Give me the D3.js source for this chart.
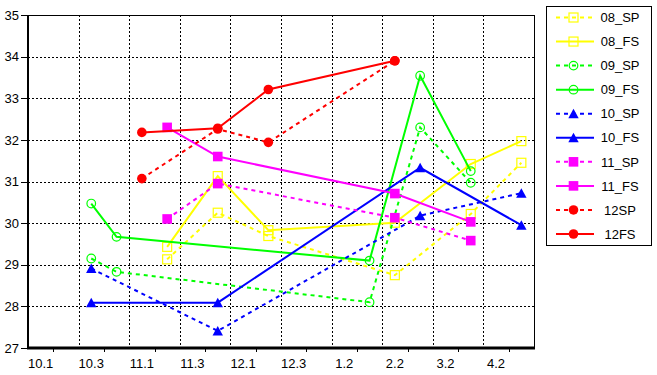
<!DOCTYPE html>
<html>
<head>
<meta charset="utf-8">
<script src="https://cdn.jsdelivr.net/npm/d3@7"></script>
<style>
  body { margin: 0; background: #fff; }
  svg text { font-family: "Liberation Sans", Arial, sans-serif; font-size: 13px; fill: #000; }
</style>
</head>
<body>
<div id="chart"></div>
<script>
// x categories (labels sit a quarter step right of each major tick)
const xLabels = ["10.1", "10.3", "11.1", "11.3", "12.1", "12.3", "1.2", "2.2", "3.2", "4.2"];
const yTickValues = [27, 28, 29, 30, 31, 32, 33, 34, 35];

// series values
const xs08 = [2.75, 3.75, 4.75, 7.25, 8.75, 9.75];
const sp08 = [29.13, 30.25, 29.69, 28.75, 30.22, 31.45];
const fs08 = [29.43, 31.13, 29.83, 30.01, 31.42, 31.97];

const xs09 = [1.25, 1.75, 6.75, 7.75, 8.75];
const sp09 = [29.15, 28.83, 28.10, 32.30, 30.97];
const fs09 = [30.47, 29.67, 29.10, 33.54, 31.25];

const xs10 = [1.25, 3.75, 7.75, 9.75];
const sp10 = [28.91, 27.41, 30.18, 30.72];
const fs10 = [28.09, 28.09, 31.33, 29.95];

const xs11 = [2.75, 3.75, 7.25, 8.75];
const sp11 = [30.10, 30.95, 30.13, 29.58];
const fs11 = [32.30, 31.60, 30.71, 30.03];

const xs12 = [2.25, 3.75, 4.75, 7.25];
const sp12 = [31.07, 32.26, 31.94, 33.90];
const fs12 = [32.18, 32.28, 33.21, 33.90];

const seriesNames = ["08_SP", "08_FS", "09_SP", "09_FS", "10_SP", "10_FS", "11_SP", "11_FS", "12SP", "12FS"];
const seriesX = [xs08, xs08, xs09, xs09, xs10, xs10, xs11, xs11, xs12, xs12];
const seriesY = [sp08, fs08, sp09, fs09, sp10, fs10, sp11, fs11, sp12, fs12];
const seriesColor = ["#ffff00", "#ffff00", "#00ff00", "#00ff00", "#0000ff", "#0000ff", "#ff00ff", "#ff00ff", "#ff0000", "#ff0000"];
const seriesMarker = ["osquare", "osquare", "ocircle", "ocircle", "triangle", "triangle", "square", "square", "dot", "dot"];

const series = seriesNames.map(function(name, i) {
    return {
        name: name,
        color: seriesColor[i],
        marker: seriesMarker[i],
        dashed: i % 2 === 0,
        points: seriesX[i].map(function(x, j) { return { x: x, y: seriesY[i][j] }; })
    };
});

const W = 657, H = 375;
const plot = { left: 28, right: 534, top: 15, bottom: 348 };

const svg = d3.select("#chart").append("svg")
    .attr("width", W)
    .attr("height", H);

const xScale = d3.scaleLinear().domain([0, 10]).range([plot.left, plot.right]);
const yScale = d3.scaleLinear().domain([27, 35]).range([plot.bottom, plot.top]);

// grid
svg.append("g").selectAll("line")
    .data(d3.range(1, 10))
    .enter().append("line")
    .attr("x1", function(d) { return Math.round(xScale(d)) + 0.5; })
    .attr("x2", function(d) { return Math.round(xScale(d)) + 0.5; })
    .attr("y1", plot.top)
    .attr("y2", plot.bottom)
    .attr("stroke", "#000")
    .attr("shape-rendering", "crispEdges")
    .attr("stroke-dasharray", "2,2");

svg.append("g").selectAll("line")
    .data(yTickValues.slice(1, -1))
    .enter().append("line")
    .attr("x1", plot.left)
    .attr("x2", plot.right)
    .attr("y1", function(d) { return Math.round(yScale(d)) + 0.5; })
    .attr("y2", function(d) { return Math.round(yScale(d)) + 0.5; })
    .attr("stroke", "#000")
    .attr("shape-rendering", "crispEdges")
    .attr("stroke-dasharray", "2,2");

// frame top / right
svg.append("path")
    .attr("d", "M" + plot.left + "," + (plot.top + 0.5) + "H" + (plot.right + 0.5) + "V" + plot.bottom)
    .attr("fill", "none")
    .attr("shape-rendering", "crispEdges")
    .attr("stroke", "#000");

// y axis
const yAxis = d3.axisLeft(yScale).tickValues(yTickValues).tickSize(7).tickPadding(2).tickFormat(d3.format("d"));
const yMinor = d3.axisLeft(yScale).ticks(40).tickSize(4).tickFormat("");

const gy = svg.append("g").attr("transform", "translate(" + plot.left + ",0)");
gy.call(yMinor);
gy.call(yAxis);
svg.selectAll(".domain").remove();
gy.selectAll("line").attr("stroke", "#000").attr("shape-rendering", "crispEdges");
gy.selectAll("text").style("font-size", "13px").attr("fill", "#000");

svg.append("line")
    .attr("x1", plot.left).attr("x2", plot.left)
    .attr("y1", plot.top).attr("y2", plot.bottom + 1)
    .attr("stroke", "#000").attr("stroke-width", 2);

// x axis
const gx = svg.append("g").attr("transform", "translate(0," + plot.bottom + ")");
gx.call(d3.axisBottom(xScale).tickValues(d3.range(0, 11)).tickSize(6).tickFormat(""));
gx.call(d3.axisBottom(xScale).tickValues(d3.range(0.5, 10, 1)).tickSize(4).tickFormat(""));
gx.selectAll(".domain").remove();
gx.selectAll("line").attr("stroke", "#000").attr("shape-rendering", "crispEdges");

gx.selectAll(".xlab")
    .data(xLabels)
    .enter().append("text")
    .attr("class", "xlab")
    .attr("x", function(d, i) { return xScale(i + 0.25); })
    .attr("y", 20)
    .attr("text-anchor", "middle")
    .text(function(d) { return d; });

svg.append("line")
    .attr("x1", plot.left - 1).attr("x2", plot.right + 1)
    .attr("y1", plot.bottom).attr("y2", plot.bottom)
    .attr("stroke", "#000").attr("stroke-width", 3);

// markers
function drawMarker(g, type, color) {
    if (type === "osquare") {
        g.append("rect").attr("x", -4.5).attr("y", -4.5).attr("width", 9).attr("height", 9)
            .attr("fill", "none").attr("stroke", color).attr("stroke-width", 1.2);
    } else if (type === "ocircle") {
        g.append("circle").attr("r", 4.3)
            .attr("fill", "none").attr("stroke", color).attr("stroke-width", 1.2);
    } else if (type === "triangle") {
        g.append("path").attr("d", "M0,-5L5.2,4.5L-5.2,4.5Z").attr("fill", color);
    } else if (type === "square") {
        g.append("rect").attr("x", -4.8).attr("y", -4.8).attr("width", 9.6).attr("height", 9.6)
            .attr("fill", color);
    } else {
        g.append("circle").attr("r", 4.8).attr("fill", color);
    }
}

const line = d3.line()
    .x(function(d) { return xScale(d.x); })
    .y(function(d) { return yScale(d.y); });

series.forEach(function(s) {
    const g = svg.append("g").attr("class", "series");
    g.append("path")
        .datum(s.points)
        .attr("d", line)
        .attr("fill", "none")
        .attr("stroke", s.color)
        .attr("stroke-width", 2)
        .attr("stroke-dasharray", s.dashed ? "4,4" : null);
    g.selectAll(".pt")
        .data(s.points)
        .enter().append("g")
        .attr("class", "pt")
        .attr("transform", function(d) { return "translate(" + xScale(d.x) + "," + yScale(d.y) + ")"; })
        .each(function() { drawMarker(d3.select(this), s.marker, s.color); });
});

// legend
const legend = svg.append("g").attr("transform", "translate(546,6)");
legend.append("rect")
    .attr("x", 0.5).attr("y", 0.5)
    .attr("width", 105).attr("height", 239)
    .attr("fill", "#fff").attr("stroke", "#000")
    .attr("shape-rendering", "crispEdges");

const legendY = d3.scalePoint().domain(seriesNames).range([11.5, 228]);

const item = legend.selectAll(".item")
    .data(series)
    .enter().append("g")
    .attr("class", "item")
    .attr("transform", function(d) { return "translate(0," + legendY(d.name) + ")"; });

item.append("line")
    .attr("x1", 10).attr("x2", 48)
    .attr("stroke", function(d) { return d.color; })
    .attr("stroke-width", 2)
    .attr("stroke-dasharray", function(d) { return d.dashed ? "4,4" : null; });

item.append("g")
    .attr("transform", "translate(27.5,0)")
    .each(function(d) { drawMarker(d3.select(this), d.marker, d.color); });

item.append("text")
    .attr("x", 74)
    .attr("dy", "0.36em")
    .attr("text-anchor", "middle")
    .text(function(d) { return d.name; });
</script>
</body>
</html>
